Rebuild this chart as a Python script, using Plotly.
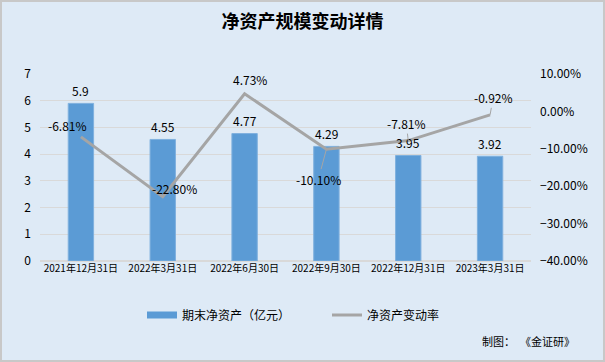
import plotly.graph_objects as go

categories = ["2021年12月31日", "2022年3月31日", "2022年6月30日", "2022年9月30日", "2022年12月31日", "2023年3月31日"]
net_assets = [5.9, 4.55, 4.77, 4.29, 3.95, 3.92]
change_rate = [-0.0681, -0.2280, 0.0473, -0.1010, -0.0781, -0.0092]
bar_labels = ["5.9", "4.55", "4.77", "4.29", "3.95", "3.92"]
rate_labels = ["-6.81%", "-22.80%", "4.73%", "-10.10%", "-7.81%", "-0.92%"]
y_left_ticks = [0, 1, 2, 3, 4, 5, 6, 7]
y_right_ticks = [0.10, 0.0, -0.10, -0.20, -0.30, -0.40]

FONT = "Noto Sans CJK SC"
BG = "#deeaf6"
BAR = "#5b9bd5"
LINE = "#a5a5a5"

fig = go.Figure()
fig.add_trace(go.Bar(
    x=categories, y=net_assets, name="期末净资产（亿元）", showlegend=False,
    marker=dict(color=BAR, line=dict(color="#7fb0de", width=1)),
    width=0.31,
))
# legend-only stand-in for the bar series (wide flat swatch)
fig.add_trace(go.Scatter(
    x=[None], y=[None], name="期末净资产（亿元）", mode="lines",
    line=dict(color=BAR, width=7),
))
fig.add_trace(go.Scatter(
    x=categories, y=change_rate, name="净资产变动率", yaxis="y2",
    mode="lines", line=dict(color=LINE, width=3),
))

for c, v, t in zip(categories, net_assets, bar_labels):
    fig.add_annotation(x=c, y=v, xref="x", yref="y", text=t, showarrow=False,
                       yanchor="middle", yshift=13,
                       font=dict(size=12, color="#000000", family=FONT))

# label offsets (pixels) for the rate labels
offsets = [(-13, -11, False), (12, -8, False), (5, -14, False), (-8, 30, True), (-2, -17, True), (3, -17, True)]
for c, v, t, (dx, dy, arrow) in zip(categories, change_rate, rate_labels, offsets):
    fig.add_annotation(
        x=c, y=v, xref="x", yref="y2", text=t,
        showarrow=True, arrowhead=0, arrowwidth=1,
        arrowcolor=LINE if arrow else "rgba(0,0,0,0)",
        ax=dx, ay=dy, standoff=0,
        font=dict(size=12, color="#000000", family=FONT),
    )

fig.update_layout(
    width=605, height=362,
    margin=dict(l=40, r=74, t=74, b=101),
    paper_bgcolor=BG, plot_bgcolor=BG,
    font=dict(family=FONT, size=12, color="#000000"),
    title=dict(text="<b>净资产规模变动详情</b>", x=0.5, xanchor="center", y=1 - 22 / 362, yanchor="middle",
               font=dict(size=18, family=FONT, color="#000000")),
    bargap=0.69,
    xaxis=dict(categoryorder="array", categoryarray=categories,
               tickfont=dict(size=10, family=FONT), showgrid=False, showline=False, ticks="",
               range=[-0.5, 5.5]),
    yaxis=dict(range=[0, 7], tickvals=y_left_ticks, showgrid=True, gridcolor="#d9d9d9",
               zeroline=True, zerolinecolor="#d9d9d9", tickfont=dict(size=12), ticks="",
               ticklabelstandoff=8),
    yaxis2=dict(range=[-0.4, 0.1], tickvals=y_right_ticks, tickformat=".2%", overlaying="y",
                side="right", showgrid=False, zeroline=False, tickfont=dict(size=12), ticks="",
                ticklabelstandoff=8),
    legend=dict(orientation="h", x=(142 - 40) / 491, xanchor="left", y=-(315 - 261) / 187, yanchor="middle",
                font=dict(size=12, family=FONT), bgcolor="rgba(0,0,0,0)", itemwidth=30,
                entrywidth=140),
    showlegend=True,
)

fig.add_annotation(text="制图：  《金证研》", xref="paper", yref="paper",
                   x=(577 - 40) / 491, y=-(341 - 261) / 187, xanchor="right", yanchor="middle",
                   showarrow=False, font=dict(size=11, family=FONT, color="#000000"))

fig.add_shape(type="rect", xref="paper", yref="paper",
              x0=-39 / 491, x1=1 + 73 / 491, y0=-100 / 187, y1=1 + 73 / 187,
              line=dict(color="#c8c8c8", width=2), fillcolor="rgba(0,0,0,0)", layer="above")

fig.write_html("out.html", post_script="document.body.style.margin='0';",
               config={"displayModeBar": False})
